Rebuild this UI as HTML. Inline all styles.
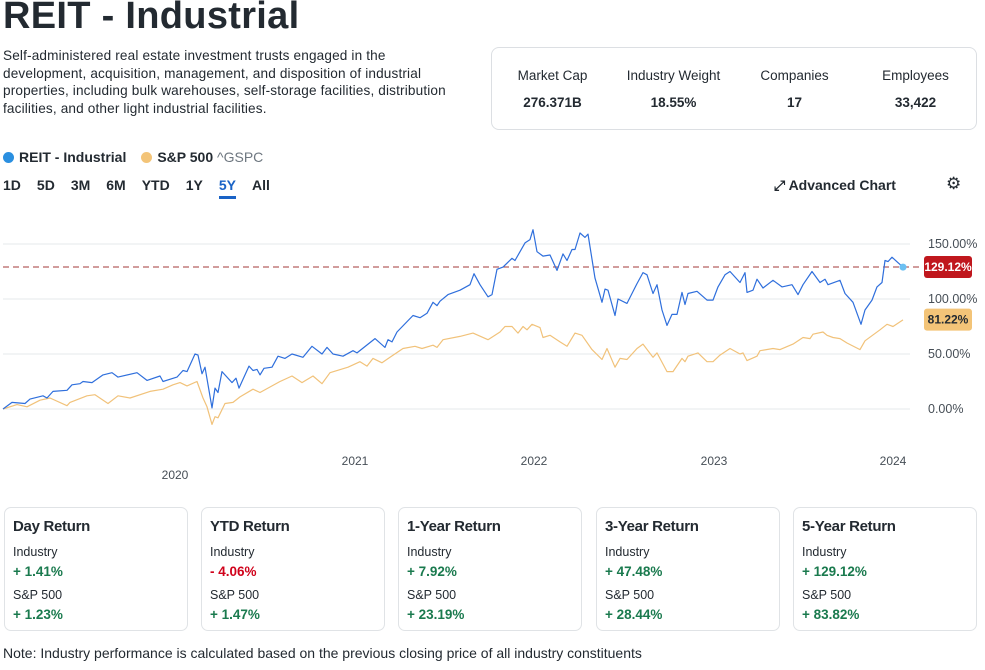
<!DOCTYPE html>
<html><head><meta charset="utf-8">
<style>
*{box-sizing:border-box;margin:0;padding:0}
body{width:985px;height:670px;overflow:hidden;background:#fff;font-family:"Liberation Sans",Arial,sans-serif;color:#232a31;position:relative}
.abs{position:absolute}
h1{position:absolute;left:3px;top:-5px;font-size:38px;font-weight:bold;letter-spacing:0.3px;color:#232a31}
.desc{left:3px;top:47px;width:468px;font-size:13.6px;letter-spacing:0.15px;line-height:17.5px;color:#232a31}
.stats{left:491px;top:47px;width:486px;height:83px;border:1px solid #dcdfe3;border-radius:8px;display:flex}
.stat{flex:1;text-align:center;padding-top:20px}
.stat .l{font-size:13.5px;color:#232a31}
.stat .v{font-size:13.5px;font-weight:bold;margin-top:12px}
.legend{left:3px;top:149px;font-size:14px;font-weight:bold;display:flex;align-items:center}
.dot{width:11px;height:11px;border-radius:50%;display:inline-block;margin-right:5px}
.tabs{left:3px;top:177px;font-size:14px;font-weight:bold;display:flex}
.tab{margin-right:16px}
.card{top:507px;width:184px;height:124px;border:1px solid #e0e3e6;border-radius:7px;padding:10px 8px}
.card .t{font-size:15px;font-weight:bold;letter-spacing:-0.3px}
.card .l{font-size:12.5px;margin-top:10px}
.card .l2{font-size:12.5px;margin-top:9px}
.card .v{font-size:13.5px;font-weight:bold;margin-top:5px;color:#1a7a4e}
.card .v.neg{color:#d0021b}
.note{left:3px;top:645px;font-size:14px}
</style></head><body>
<h1>REIT - Industrial</h1>
<div class="abs desc">Self-administered real estate investment trusts engaged in the development, acquisition, management, and disposition of industrial properties, including bulk warehouses, self-storage facilities, distribution facilities, and other light industrial facilities.</div>
<div class="abs stats">
<div class="stat"><div class="l">Market Cap</div><div class="v">276.371B</div></div>
<div class="stat"><div class="l">Industry Weight</div><div class="v">18.55%</div></div>
<div class="stat"><div class="l">Companies</div><div class="v">17</div></div>
<div class="stat"><div class="l">Employees</div><div class="v">33,422</div></div>
</div>
<div class="abs legend">
<span class="dot" style="background:#2a8fe0"></span><span>REIT - Industrial</span>
<span class="dot" style="background:#f3c478;margin-left:15px"></span><span>S&amp;P 500 <span style="font-weight:normal;color:#6e7780">^GSPC</span></span>
</div>
<div class="abs tabs">
<span class="tab">1D</span>
<span class="tab">5D</span>
<span class="tab">3M</span>
<span class="tab">6M</span>
<span class="tab">YTD</span>
<span class="tab">1Y</span>
<span class="tab" style="color:#1a63c6;border-bottom:3px solid #1a63c6;padding-bottom:3px">5Y</span>
<span class="tab">All</span>
</div>
<div class="abs" style="left:774px;top:177px;font-size:14px;font-weight:bold">⤢ Advanced Chart</div>
<div class="abs" style="left:946px;top:174px;font-size:17px">⚙</div>

<svg class="abs" style="left:0;top:220px" width="985" height="270" id="chart"></svg>

<div class="abs card" style="left:4px"><div class="t">Day Return</div><div class="l">Industry</div><div class="v">+ 1.41%</div><div class="l2">S&amp;P 500</div><div class="v">+ 1.23%</div></div>
<div class="abs card" style="left:201px"><div class="t">YTD Return</div><div class="l">Industry</div><div class="v neg">- 4.06%</div><div class="l2">S&amp;P 500</div><div class="v">+ 1.47%</div></div>
<div class="abs card" style="left:398px"><div class="t">1-Year Return</div><div class="l">Industry</div><div class="v">+ 7.92%</div><div class="l2">S&amp;P 500</div><div class="v">+ 23.19%</div></div>
<div class="abs card" style="left:596px"><div class="t">3-Year Return</div><div class="l">Industry</div><div class="v">+ 47.48%</div><div class="l2">S&amp;P 500</div><div class="v">+ 28.44%</div></div>
<div class="abs card" style="left:793px"><div class="t">5-Year Return</div><div class="l">Industry</div><div class="v">+ 129.12%</div><div class="l2">S&amp;P 500</div><div class="v">+ 83.82%</div></div>
<div class="abs note">Note: Industry performance is calculated based on the previous closing price of all industry constituents</div>

<script>
// session index (0..900) and % return
const reitDays=[0,9,22,27,40,44,50,64,69,77,80,89,100,109,115,134,144,157,160,174,180,184,192,195,199,202,209,212,215,219,229,233,236,246,250,254,257,261,269,275,282,289,300,309,319,324,330,340,350,354,372,382,385,389,394,410,417,424,430,434,437,445,457,467,471,477,485,489,494,500,509,512,522,527,530,534,540,547,554,560,564,569,572,577,582,585,592,599,602,605,612,615,624,634,640,644,650,654,659,664,669,674,679,682,685,694,704,710,715,722,727,732,737,742,744,750,754,760,770,779,789,795,800,809,817,822,825,837,842,850,858,862,869,874,879,882,885,889,895,900];
const reitVals=[0,6,5,9,12,10,16,17,22,23,25,24,31,33,29,33,26,30,25,29,35,34,50,49,32,38,1,19,15,34,24,28,19,39,35,36,31,37,38,48,46,50,47,57,50,56,50,48,53,51,64,56,63,61,70,85,83,87,97,94,98,104,108,113,123,113,102,104,127,129,137,135,151,154,163,143,139,140,126,141,135,145,145,160,156,159,119,97,109,108,85,100,96,114,124,122,105,113,90,76,86,86,106,95,105,107,99,99,111,122,125,120,115,124,106,108,118,110,117,111,113,104,113,125,115,118,113,117,105,97,77,90,99,111,115,135,134,138,133,129];
const spDays=[0,14,24,37,47,64,67,84,92,105,115,127,147,160,170,177,184,194,200,204,209,212,215,222,230,237,250,257,267,277,289,299,310,319,327,345,357,364,370,379,387,400,412,419,430,434,440,457,470,485,497,502,509,515,520,524,529,537,540,547,557,564,572,579,589,599,604,612,617,624,634,640,650,654,664,670,679,682,685,695,704,710,717,727,737,740,744,754,757,770,777,790,800,807,810,820,824,830,837,844,857,862,877,884,890,900];
const spVals=[0,4,2,8,10,3,6,12,13,5,12,10,16,18,22,24,21,25,10,2,-14,-7,-8,5,6,11,18,15,20,25,30,24,30,23,33,38,43,39,46,42,47,55,57,55,58,56,63,66,69,63,70,75,75,69,75,72,77,74,65,67,61,57,69,67,54,45,55,38,46,45,55,59,47,51,34,34,46,43,48,51,43,43,49,55,50,51,44,48,53,55,54,59,65,64,68,70,67,65,64,60,54,62,72,77,75,81];
const yTicks=[0,50,100,150];
const yTickLabels=["0.00%","50.00%","100.00%","150.00%"];
const xTickDays=[172,352,531,711,890];
const xTickLabels=["2020","2021","2022","2023","2024"];
const reitLast=129.12, spLast=81.22;

const svg=document.getElementById('chart');
const NS='http://www.w3.org/2000/svg';
const xS=d=>3+d;
const yS=v=>189-v*1.1;
function mk(tag,attrs){const e=document.createElementNS(NS,tag);for(const k in attrs)e.setAttribute(k,attrs[k]);svg.appendChild(e);return e;}
yTicks.forEach((t,i)=>{
  const g=mk('line',{x1:3,x2:910,y1:yS(t),y2:yS(t),stroke:'#e6e8eb','stroke-width':1});
  
  
  const tx=mk('text',{x:928,y:yS(t)+4,'font-size':12.5,fill:'#464e56','font-family':'Liberation Sans, Arial, sans-serif'});
  tx.textContent=yTickLabels[i];
  
  
});
xTickDays.forEach((d,i)=>{
  const tx=mk('text',{x:xS(d),y:i===0?259:245,'font-size':12,fill:'#464e56','text-anchor':'middle','font-family':'Liberation Sans, Arial, sans-serif'});
  tx.textContent=xTickLabels[i];
  
  
});
const ref=mk('line',{x1:3,x2:922,y1:yS(reitLast),y2:yS(reitLast),stroke:'#a33a3a','stroke-dasharray':'6,4','stroke-width':1});


function line(days,vals,color,name){
  const p=mk('polyline',{points:days.map((d,i)=>xS(d)+','+yS(vals[i])).join(' '),fill:'none',stroke:color,'stroke-width':1.2,'stroke-linejoin':'round'});
  
  
}
line(spDays,spVals,'#f1c27a','sp500-line');
line(reitDays,reitVals,'#2f6fdc','reit-industrial-line');
const ld=mk('circle',{cx:xS(reitDays[reitDays.length-1]),cy:yS(reitVals[reitVals.length-1]),r:3.5,fill:'#6cc0f2'});


function badge(v,bg,fg,name){
  const r=mk('rect',{x:924,y:yS(v)-11,width:48,height:22,rx:3,fill:bg});
  
  
  const t=mk('text',{x:948,y:yS(v)+4,'font-size':12,'text-anchor':'middle',fill:fg,'font-weight':'bold','font-family':'Liberation Sans, Arial, sans-serif'});
  t.textContent=v.toFixed(2)+'%';
  
  
}
badge(reitLast,'#c0171d','#fff','reit-last-value-badge');
badge(spLast,'#f3c478','#232a31','sp500-last-value-badge');
</script>
</body></html>
